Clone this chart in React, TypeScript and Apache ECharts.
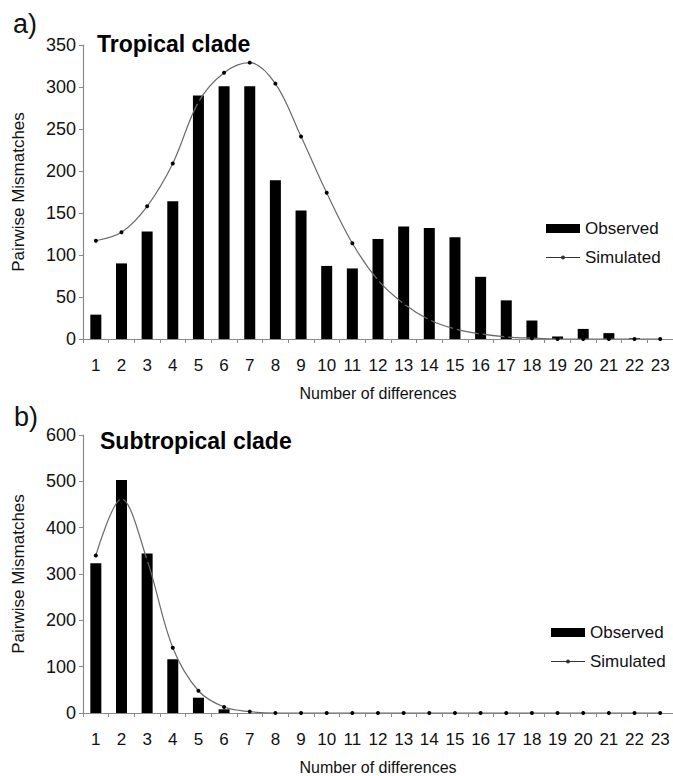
import React, { useEffect, useRef } from "react";
import * as echarts from "echarts";

const categories = ["1","2","3","4","5","6","7","8","9","10","11","12","13","14","15","16","17","18","19","20","21","22","23"];

const tropicalObserved = [29, 90, 128, 164, 290, 301, 301, 189, 153, 87, 84, 119, 134, 132, 121, 74, 46, 22, 3, 12, 7, 1, 0];
const tropicalSimulated = [117, 127, 158, 209, 282, 317, 329, 304, 241, 174, 114, 70, 42, 23, 12, 6, 2.5, 1, 0, 0, 0, 0, 0];

const subtropicalObserved = [323, 503, 344, 116, 33, 8, 0, 0, 0, 0, 0, 0, 0, 0, 0, 0, 0, 0, 0, 0, 0, 0, 0];
const subtropicalSimulated = [340, 462, 330, 141, 48, 13, 3, 0, 0, 0, 0, 0, 0, 0, 0, 0, 0, 0, 0, 0, 0, 0, 0];

const FONT = "'Liberation Sans', Arial, sans-serif";

const SIM_ICON = "path://M0,4.1L15.2,4.1L15.2,4.9L0,4.9Z M18.8,4.1L34,4.1L34,4.9L18.8,4.9Z M15,4.5a2,2 0 1,1 4,0a2,2 0 1,1 -4,0Z M0,0L0.01,0L0.01,0.01Z M33.99,8.99L34,8.99L34,9L33.99,9Z";

export default function App() {
  const ref = useRef<HTMLDivElement>(null);
  useEffect(() => {
    if (!ref.current) return;
    const chart = echarts.init(ref.current, undefined, { renderer: "svg" });
    const axisLine = { show: true, lineStyle: { color: "#8a8a8a", width: 1.2 } };
    const xAxisBase = (gridIndex: number) => ({
      type: "category",
      gridIndex,
      data: categories,
      boundaryGap: true,
      axisLine,
      axisTick: { show: true, inside: false, length: 4, interval: 0, lineStyle: { color: "#8a8a8a" } },
      axisLabel: { interval: 0, margin: 18, color: "#111", fontSize: 17, fontFamily: FONT },
      name: "Number of differences",
      nameLocation: "middle",
      nameGap: 46,
      nameTextStyle: { color: "#111", fontSize: 16, fontFamily: FONT },
      splitLine: { show: false },
    });
    const yAxisBase = (gridIndex: number, max: number, interval: number) => ({
      type: "value",
      gridIndex,
      min: 0,
      max,
      interval,
      axisLine,
      axisTick: { show: true, inside: false, length: 4, lineStyle: { color: "#8a8a8a" } },
      axisLabel: { margin: 7, color: "#111", fontSize: 18, fontFamily: FONT },
      splitLine: { show: false },
      name: "Pairwise Mismatches",
      nameLocation: "middle",
      nameRotate: 90,
      nameGap: 56,
      nameTextStyle: { color: "#111", fontSize: 17, fontFamily: FONT },
    });
    const barSeries = (name: string, idx: number, data: number[]) => ({
      type: "bar",
      name,
      xAxisIndex: idx,
      yAxisIndex: idx,
      data,
      barWidth: 11,
      itemStyle: { color: "#000" },
    });
    const lineSeries = (name: string, idx: number, data: number[]) => ({
      type: "line",
      name,
      xAxisIndex: idx,
      yAxisIndex: idx,
      data,
      smooth: 0.35,
      symbol: "circle",
      symbolSize: 4,
      showSymbol: true,
      itemStyle: { color: "#000" },
      lineStyle: { color: "#6a6a6a", width: 1.2 },
      z: 3,
    });
    const legendBase = (left: number, top: number) => ({
      orient: "vertical",
      left,
      top,
      itemWidth: 34,
      itemHeight: 9,
      itemGap: 12,
      textStyle: { color: "#111", fontSize: 17, fontFamily: FONT },
      data: [
        { name: "Observed", icon: "rect" },
        { name: "Simulated", icon: SIM_ICON, itemStyle: { color: "#333" } },
      ],
    });
    chart.setOption({
      animation: false,
      backgroundColor: "#fff",
      grid: [
        { left: 83, top: 45, width: 590, height: 294 },
        { left: 83, top: 435, width: 590, height: 289 },
      ],
      xAxis: [xAxisBase(0), xAxisBase(1)],
      yAxis: [yAxisBase(0, 350, 50), yAxisBase(1, 600, 100)],
      legend: [legendBase(541, 215), legendBase(546, 619)],
      series: [
        barSeries("Observed", 0, tropicalObserved),
        lineSeries("Simulated", 0, tropicalSimulated),
        barSeries("Observed", 1, subtropicalObserved),
        lineSeries("Simulated", 1, subtropicalSimulated),
      ],
      graphic: [
        { type: "text", left: 13, top: 10, style: { text: "a)", fontSize: 27, fontFamily: FONT, fill: "#111" } },
        { type: "text", left: 14, top: 403, style: { text: "b)", fontSize: 27, fontFamily: FONT, fill: "#111" } },
        { type: "text", x: 97, y: 44, style: { text: "Tropical clade", fontSize: 23, fontWeight: "bold", fontFamily: FONT, fill: "#000", verticalAlign: "middle" } },
        { type: "text", x: 100, y: 441, style: { text: "Subtropical clade", fontSize: 23, fontWeight: "bold", fontFamily: FONT, fill: "#000", verticalAlign: "middle" } },
      ],
    });
    return () => chart.dispose();
  }, []);
  return <div ref={ref} style={{ position: "fixed", left: 0, top: 0, width: 673, height: 776, background: "#fff" }} />;
}
